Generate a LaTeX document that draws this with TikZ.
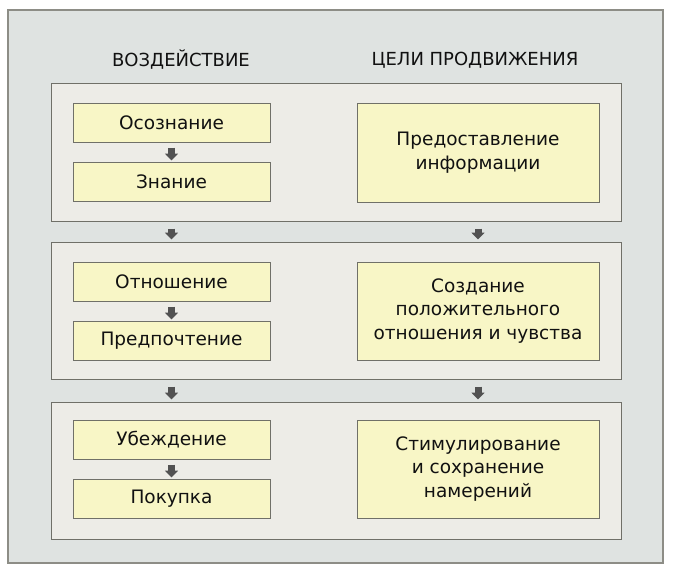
\documentclass[tikz,border=0pt]{standalone}
\usepackage{fontspec}
\setmainfont{DejaVu Sans}
\usetikzlibrary{arrows.meta}
\definecolor{outerfill}{HTML}{DFE3E1}
\definecolor{panelfill}{HTML}{EDECE7}
\definecolor{boxfill}{HTML}{F8F6C6}
\definecolor{edgecol}{HTML}{707068}
\definecolor{arrcol}{HTML}{525252}
\definecolor{txtcol}{HTML}{111111}
\tikzset{
  outerframe/.style={draw=edgecol!80, line width=1.2pt, fill=outerfill},
  panel/.style={draw=edgecol, line width=1pt, fill=panelfill, inner sep=0pt, minimum width=570pt},
  smallbox/.style={draw=edgecol, line width=1pt, fill=boxfill, inner sep=0pt, minimum width=197pt, minimum height=39pt, text=txtcol, font=\fontsize{18.5}{23}\selectfont},
  bigbox/.style={draw=edgecol, line width=1pt, fill=boxfill, inner sep=0pt, minimum width=242pt, text=txtcol, align=center, font=\fontsize{18.5}{23.5}\selectfont},
  header/.style={text=txtcol, font=\fontsize{18}{20}\selectfont},
  blockarr/.style={arrcol, line width=7pt, -{Triangle[length=7pt,width=13pt]}}
}
\begin{document}
\begin{tikzpicture}[x=1pt,y=-1pt]
\useasboundingbox (0,0) rectangle (674,574);
\fill[white] (0,0) rectangle (674,574);
\draw[outerframe] (8,10) rectangle (663,563);
\node[header] (h1) at (181,60) {ВОЗДЕЙСТВИЕ};
\node[header] (h2) at (475,60) {ЦЕЛИ ПРОДВИЖЕНИЯ};
% panels
\node[panel, minimum height=138pt] (p1) at (336,152) {};
\node[panel, minimum height=137pt] (p2) at (336,310.5) {};
\node[panel, minimum height=137pt] (p3) at (336,470.5) {};
% left boxes
\node[smallbox] (a1) at (171.5,122.5) {Осознание};
\node[smallbox] (a2) at (171.5,181.5) {Знание};
\node[smallbox] (b1) at (171.5,281.5) {Отношение};
\node[smallbox] (b2) at (171.5,340.5) {Предпочтение};
\node[smallbox] (c1) at (171.5,439.5) {Убеждение};
\node[smallbox] (c2) at (171.5,498.5) {Покупка};
% right boxes
\node[bigbox, minimum height=99pt] (r1) at (478,152.5) {Предоставление\\информации};
\node[bigbox, minimum height=98pt] (r2) at (478,311) {Создание\\положительного\\отношения и чувства};
\node[bigbox, minimum height=98pt] (r3) at (478,469) {Стимулирование\\и сохранение\\намерений};
% arrows within panels
\draw[blockarr, shorten <=5pt, shorten >=1pt] (a1) -- (a2);
\draw[blockarr, shorten <=5pt, shorten >=1pt] (b1) -- (b2);
\draw[blockarr, shorten <=5pt, shorten >=1pt] (c1) -- (c2);
% arrows between panels
\draw[blockarr, shorten <=7pt, shorten >=2pt] (a2 |- p1.south) -- (a2 |- p2.north);
\draw[blockarr, shorten <=7pt, shorten >=2pt] (r1 |- p1.south) -- (r1 |- p2.north);
\draw[blockarr, shorten <=7pt, shorten >=2pt] (b2 |- p2.south) -- (b2 |- p3.north);
\draw[blockarr, shorten <=7pt, shorten >=2pt] (r2 |- p2.south) -- (r2 |- p3.north);
\end{tikzpicture}
\end{document}
